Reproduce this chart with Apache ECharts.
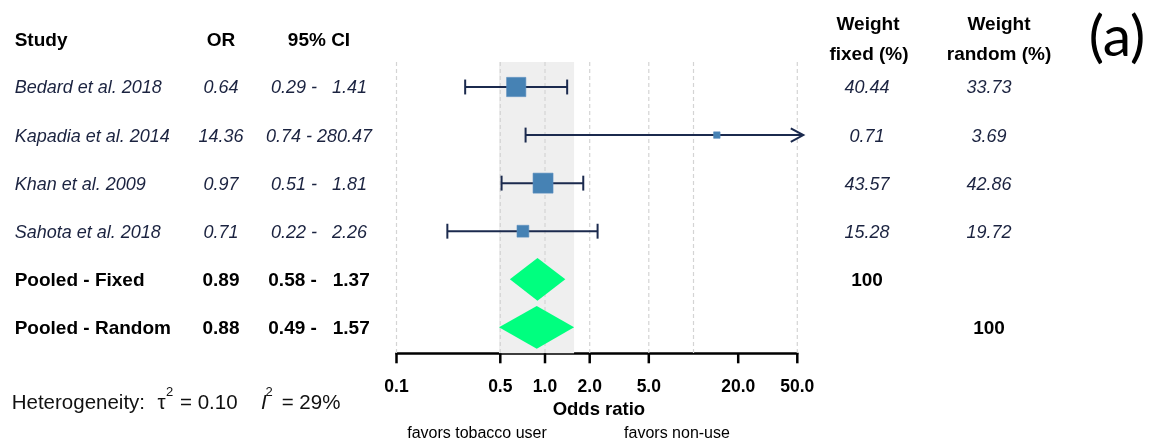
<!DOCTYPE html>
<html>
<head>
<meta charset="utf-8">
<script src="https://cdn.jsdelivr.net/npm/echarts@6/dist/echarts.min.js"></script>
<style>
  html, body { margin: 0; padding: 0; background: #ffffff; }
  #chart { width: 1155px; height: 445px; }
</style>
</head>
<body>
<div id="chart"></div>
<script>
// Individual studies
const studies = ['Bedard et al. 2018', 'Kapadia et al. 2014', 'Khan et al. 2009', 'Sahota et al. 2018'];
const orValues = [0.64, 14.36, 0.97, 0.71];
const ciLower = [0.29, 0.74, 0.51, 0.22];
const ciUpper = [1.41, 280.47, 1.81, 2.26];
const weightFixed = [40.44, 0.71, 43.57, 15.28];
const weightRandom = [33.73, 3.69, 42.86, 19.72];

// Pooled estimates
const pooledLabels = ['Pooled - Fixed', 'Pooled - Random'];
const pooledOR = [0.89, 0.88];
const pooledLower = [0.58, 0.49];
const pooledUpper = [1.37, 1.57];

// Heterogeneity
const tau2 = 0.10;
const i2 = 29;

// Odds-ratio axis
const tickValues = [0.1, 0.5, 1, 2, 5, 20, 50];
const tickLabels = ['0.1', '0.5', '1.0', '2.0', '5.0', '20.0', '50.0'];
const gridValues = [0.1, 0.5, 1, 2, 5, 10, 50];
const X_MIN = 0.1, X_MAX = 50;

const FONT = '"Liberation Sans", Arial, Helvetica, sans-serif';
const ITALIC = 'italic 18px ' + FONT;
const BOLD = 'bold 19px ' + FONT;
const TEXT_DARK = '#1b2340';
const WHISKER = '#1b2a4e';

// Column anchors (pixels)
const COL_STUDY = 14.7, COL_OR = 221, COL_CI = 319, COL_WF = 867, COL_WR = 989;

const fmt2 = v => v.toFixed(2);
const fmtCI = (lo, hi) => fmt2(lo) + ' - ' + fmt2(hi).padStart(6, ' ');

const nRows = studies.length + pooledLabels.length;
const studyData = studies.map((s, i) => [orValues[i], ciLower[i], ciUpper[i], i, weightFixed[i], weightRandom[i]]);
const pooledData = pooledLabels.map((s, i) => [pooledOR[i], pooledLower[i], pooledUpper[i], studies.length + i]);

const sumFixed = weightFixed.reduce((a, b) => a + b, 0);
const sumRandom = weightRandom.reduce((a, b) => a + b, 0);

function text(str, x, y, font, fill, align) {
  return {
    type: 'text',
    style: { text: str, x: x, y: y, font: font, fill: fill, align: align || 'left', verticalAlign: 'middle' }
  };
}

const chart = echarts.init(document.getElementById('chart'), null, { renderer: 'canvas' });

const option = {
  backgroundColor: '#ffffff',
  animation: false,
  grid: { left: 396.5, right: 357.7, top: 62, bottom: 91.7 },
  xAxis: {
    type: 'log',
    logBase: 10,
    min: X_MIN,
    max: X_MAX,
    axisLine: { show: true, onZero: false, lineStyle: { color: '#000000', width: 2.5 } },
    axisTick: { show: false },
    axisLabel: { show: false },
    splitLine: { show: false }
  },
  yAxis: {
    type: 'value',
    inverse: true,
    min: -0.52,
    max: nRows - 0.46,
    show: false
  },
  series: [
    {
      // shaded CI band of the random-effects estimate, grid lines, ticks
      type: 'custom',
      silent: true,
      z: 1,
      data: [[pooledLower[1], pooledUpper[1]]],
      renderItem: function (params, api) {
        const cs = params.coordSys;
        const top = cs.y, bottom = cs.y + cs.height;
        const children = [];
        const bx0 = api.coord([api.value(0), 0])[0];
        const bx1 = api.coord([api.value(1), 0])[0];
        children.push({
          type: 'rect',
          shape: { x: bx0, y: top, width: bx1 - bx0, height: bottom - top },
          style: { fill: '#efefef' }
        });
        gridValues.forEach(v => {
          const x = api.coord([v, 0])[0];
          children.push({
            type: 'line',
            shape: { x1: x, y1: top, x2: x, y2: bottom },
            style: { stroke: '#d4d4d4', lineWidth: 1.2, lineDash: [4, 3] }
          });
        });
        tickValues.forEach((v, k) => {
          const x = api.coord([v, 0])[0];
          children.push({
            type: 'line',
            shape: { x1: x, y1: bottom, x2: x, y2: bottom + 10 },
            style: { stroke: '#000000', lineWidth: 2.5 }
          });
          children.push(text(tickLabels[k], x, bottom + 34, 'bold 17.5px ' + FONT, '#000000', 'center'));
        });
        children.push(text('Odds ratio', cs.x + cs.width / 2 + 2, bottom + 57, 'bold 18.5px ' + FONT, '#000000', 'center'));
        return { type: 'group', children: children };
      }
    },
    {
      // individual studies: CI whisker, weighted square, table columns
      type: 'custom',
      z: 3,
      data: studyData,
      renderItem: function (params, api) {
        const i = params.dataIndex;
        const or = api.value(0), lo = api.value(1), hi = api.value(2), row = api.value(3);
        const wf = api.value(4), wr = api.value(5);
        const y = api.coord([1, row])[1];
        const rowH = api.coord([1, row + 1])[1] - y;
        const capH = rowH * 0.155;
        const xLo = api.coord([Math.max(lo, X_MIN), row])[0];
        const beyond = hi > X_MAX;
        const xHi = api.coord([Math.min(hi, X_MAX), row])[0];
        const xOr = api.coord([or, row])[0];
        const side = Math.max(6.5, 3.03 * Math.sqrt(wf));
        const children = [];
        const lineEnd = beyond ? xHi + 6 : xHi;
        children.push({ type: 'line', shape: { x1: xLo, y1: y, x2: lineEnd, y2: y }, style: { stroke: WHISKER, lineWidth: 2 } });
        children.push({ type: 'line', shape: { x1: xLo, y1: y - capH, x2: xLo, y2: y + capH }, style: { stroke: WHISKER, lineWidth: 2 } });
        if (beyond) {
          children.push({
            type: 'polyline',
            shape: { points: [[xHi - 6.5, y - 6.7], [xHi + 6, y], [xHi - 6.5, y + 6.7]] },
            style: { stroke: WHISKER, lineWidth: 2, fill: null }
          });
        } else {
          children.push({ type: 'line', shape: { x1: xHi, y1: y - capH, x2: xHi, y2: y + capH }, style: { stroke: WHISKER, lineWidth: 2 } });
        }
        children.push({
          type: 'rect',
          shape: { x: xOr - side / 2, y: y - side / 2, width: side, height: side },
          style: { fill: '#4682b4', stroke: '#5a8fc0', lineWidth: 0.6 }
        });
        const ty = y + 1.5;
        children.push(text(studies[i], COL_STUDY, ty, ITALIC, TEXT_DARK, 'left'));
        children.push(text(fmt2(or), COL_OR, ty, ITALIC, TEXT_DARK, 'center'));
        children.push(text(fmtCI(lo, hi), COL_CI, ty, ITALIC, TEXT_DARK, 'center'));
        children.push(text(fmt2(wf), COL_WF, ty, ITALIC, TEXT_DARK, 'center'));
        children.push(text(fmt2(wr), COL_WR, ty, ITALIC, TEXT_DARK, 'center'));
        return { type: 'group', children: children };
      }
    },
    {
      // pooled estimates as diamonds
      type: 'custom',
      z: 3,
      data: pooledData,
      renderItem: function (params, api) {
        const i = params.dataIndex;
        const or = api.value(0), lo = api.value(1), hi = api.value(2), row = api.value(3);
        const y = api.coord([1, row])[1];
        const rowH = api.coord([1, row + 1])[1] - y;
        const h = rowH * 0.445;
        const xLo = api.coord([lo, row])[0];
        const xHi = api.coord([hi, row])[0];
        const xOr = api.coord([or, row])[0];
        const children = [{
          type: 'polygon',
          shape: { points: [[xLo, y], [xOr, y - h], [xHi, y], [xOr, y + h]] },
          style: { fill: '#00ff7f' }
        }];
        const ty = y + 1.5;
        children.push(text(pooledLabels[i], COL_STUDY, ty, BOLD, '#000000', 'left'));
        children.push(text(fmt2(or), COL_OR, ty, BOLD, '#000000', 'center'));
        children.push(text(fmtCI(lo, hi), COL_CI, ty, BOLD, '#000000', 'center'));
        if (i === 0) {
          children.push(text(String(Math.round(sumFixed)), COL_WF, ty, BOLD, '#000000', 'center'));
        } else {
          children.push(text(String(Math.round(sumRandom)), COL_WR, ty, BOLD, '#000000', 'center'));
        }
        return { type: 'group', children: children };
      }
    }
  ],
  graphic: [
    text('Study', COL_STUDY, 41, BOLD, '#000000', 'left'),
    text('OR', COL_OR, 41, BOLD, '#000000', 'center'),
    text('95% CI', COL_CI, 41, BOLD, '#000000', 'center'),
    text('Weight', 868, 25, BOLD, '#000000', 'center'),
    text('fixed (%)', 869, 55, BOLD, '#000000', 'center'),
    text('Weight', 999, 25, BOLD, '#000000', 'center'),
    text('random (%)', 999, 55, BOLD, '#000000', 'center'),
    text('(a)', 1117, 38, '57px Lato, "Open Sans", sans-serif', '#000000', 'center'),
    text('favors tobacco user', 477, 434, '16px ' + FONT, '#000000', 'center'),
    text('favors non-use', 677, 434, '16px ' + FONT, '#000000', 'center'),
    // heterogeneity statistics
    text('Heterogeneity:', 11.7, 403, '20.5px ' + FONT, '#111111', 'left'),
    text('\u03c4', 157.5, 403, '20.5px ' + FONT, '#111111', 'left'),
    text('2', 166, 392.5, '13px ' + FONT, '#111111', 'left'),
    text('= ' + tau2.toFixed(2), 180, 403, '20.5px ' + FONT, '#111111', 'left'),
    text('I', 261, 403, 'italic 20.5px ' + FONT, '#111111', 'left'),
    text('2', 265.5, 392.5, '13px ' + FONT, '#111111', 'left'),
    text('= ' + i2 + '%', 281.7, 403, '20.5px ' + FONT, '#111111', 'left')
  ]
};

chart.setOption(option);
</script>
</body>
</html>
